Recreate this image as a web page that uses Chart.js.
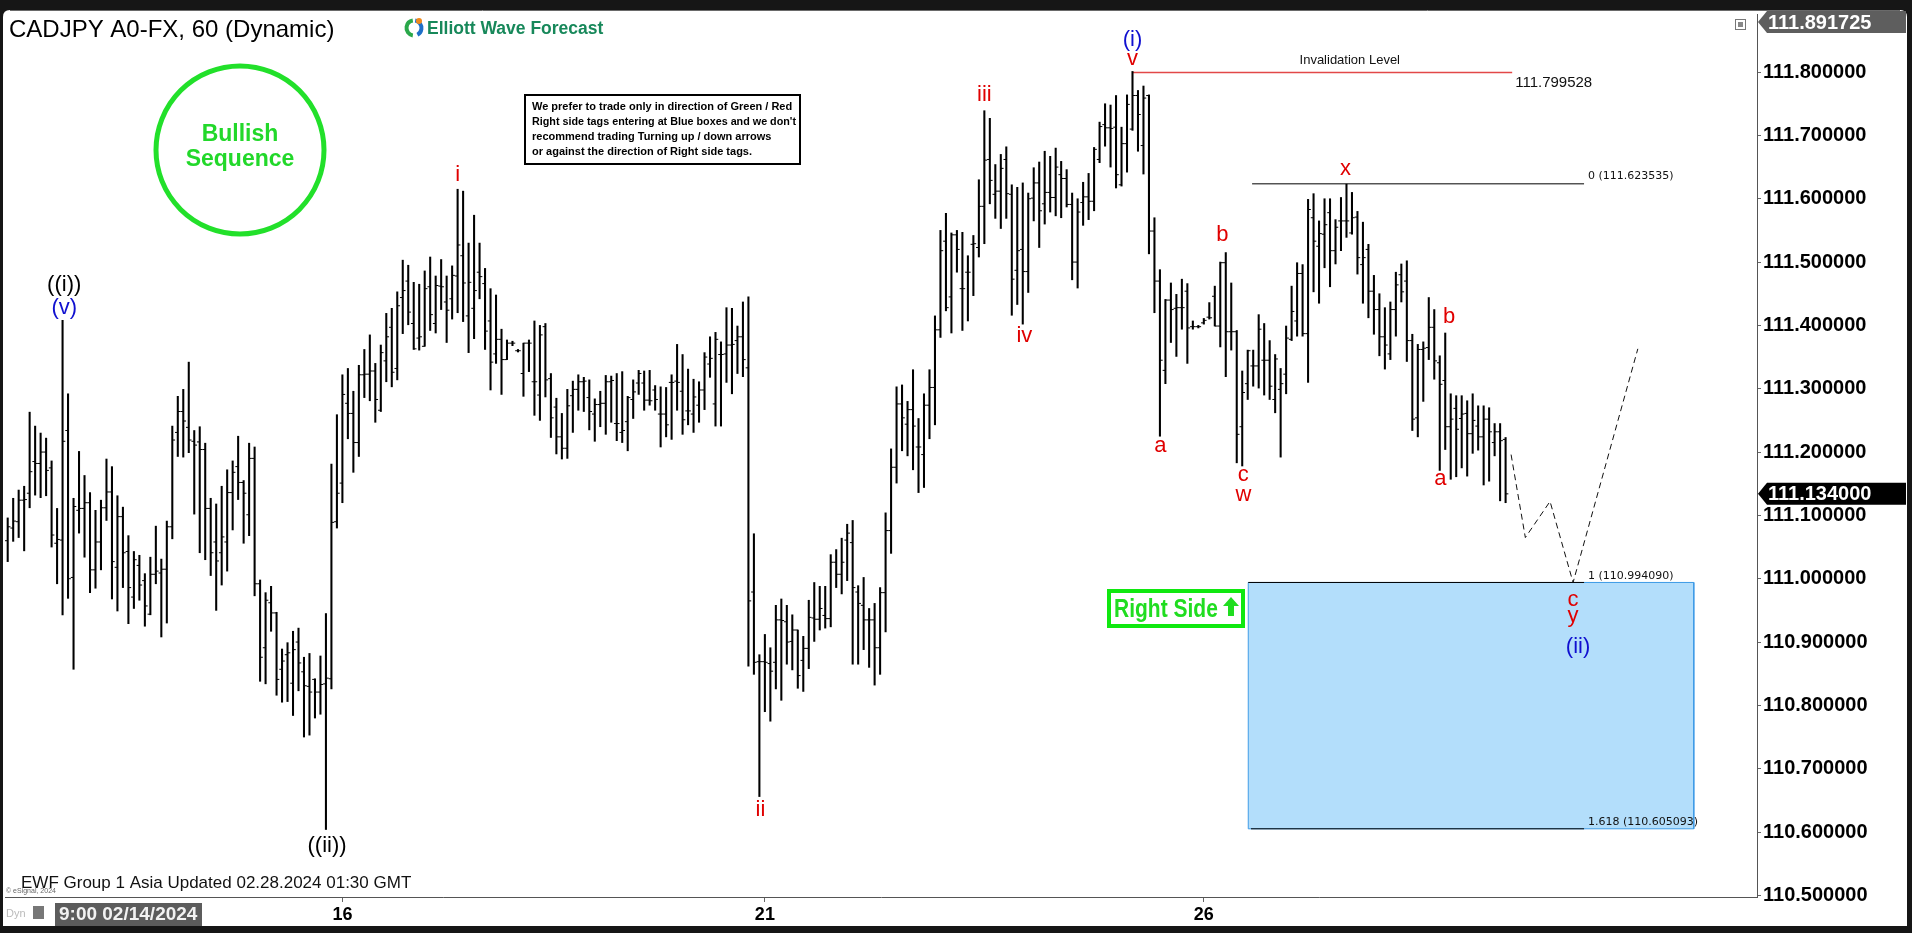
<!DOCTYPE html>
<html><head><meta charset="utf-8">
<script src="https://cdn.jsdelivr.net/npm/chart.js@4.4.1/dist/chart.umd.min.js"></script>
<style>html,body{margin:0;padding:0;background:#161616;overflow:hidden}canvas{display:block}</style>
</head><body>
<canvas id="c" width="1912" height="933"></canvas>
<script>
// ---------------- DATA ----------------
const DATE_TICKS = [61, 138, 218];
const DATE_LABELS = ['16', '21', '26'];
const PRICE_TICKS = [110.5, 110.6, 110.7, 110.8, 110.9, 111.0, 111.1, 111.2, 111.3, 111.4, 111.5, 111.6, 111.7, 111.8];
const Y_MIN = 110.4974, Y_MAX = 111.891725;
const LAST_PRICE = 111.134;

const OPEN = [
111.060,111.080,111.090,111.124,111.135,111.185,111.182,111.200,111.175,111.056,
111.061,111.234,111.002,111.108,111.111,111.120,111.014,111.058,111.112,111.137,
111.018,111.098,111.043,110.971,111.021,110.997,110.944,111.007,111.009,111.015,
111.082,111.231,111.264,111.239,111.217,111.216,111.204,111.111,111.058,111.041,
111.058,111.136,111.177,111.152,111.101,111.190,110.992,110.891,110.962,110.946,
110.857,110.880,110.835,110.900,110.853,110.830,110.841,110.821,110.834,110.842,
111.090,111.151,111.277,111.261,111.215,111.322,111.323,111.328,111.266,111.344,
111.397,111.332,111.444,111.470,111.403,111.380,111.367,111.461,111.403,111.462,
111.437,111.442,111.478,111.510,111.415,111.427,111.484,111.466,111.407,111.355,
111.378,111.346,111.372,111.360,111.324,111.372,111.311,111.290,111.398,111.316,
111.271,111.224,111.206,111.289,111.299,111.311,111.286,111.260,111.275,111.277,
111.311,111.245,111.231,111.248,111.283,111.309,111.309,111.282,111.298,111.260,
111.260,111.310,111.312,111.296,111.265,111.260,111.274,111.298,111.339,111.276,
111.354,111.355,111.369,111.376,111.382,111.333,
110.979,110.869,110.869,110.866,110.868,110.935,110.932,110.901,110.919,110.871,
110.890,110.938,110.936,110.942,110.937,111.026,111.007,111.061,111.057,110.979,
110.958,110.935,110.935,110.891,110.978,111.076,111.176,111.276,111.244,111.267,
111.208,111.196,111.274,
111.302,111.393,111.533,111.445,111.543,111.458,111.484,111.528,111.523,111.588,
111.662,111.607,111.612,111.662,111.607,111.487,111.520,111.485,111.601,111.625,
111.592,111.610,111.602,111.638,111.632,111.591,111.500,111.594,111.603,111.596,
111.662,111.717,111.712,111.713,111.622,111.687,
111.710,111.763,111.684,111.763,111.549,111.470,111.329,111.440,111.427,111.428,
111.454,111.398,111.398,111.404,111.413,111.446,111.399,111.499,111.390,111.390,
111.240,111.308,111.336,111.336,111.345,111.345,111.283,111.299,111.323,111.378,
111.407,111.482,111.387,111.570,111.525,111.544,111.578,111.518,111.565,111.565,
111.546,111.571,111.496,111.520,111.454,111.425,111.382,111.355,111.425,111.480,
111.470,111.376,111.254,111.362,111.365,111.397,111.341,111.313,111.240,111.269,
111.253,111.261,111.229,111.241,111.224,111.252,111.215,111.232,111.220
];
const HIGH = [
111.096,111.127,111.140,111.146,111.263,111.241,111.230,111.222,111.186,111.111,
111.408,111.292,111.127,111.201,111.163,111.136,111.108,111.124,111.189,111.177,
111.131,111.113,111.068,111.043,111.037,111.008,111.034,111.083,111.031,111.091,
111.241,111.288,111.299,111.342,111.234,111.240,111.214,111.127,111.118,111.146,
111.172,111.186,111.225,111.155,111.214,111.208,110.998,110.978,110.988,110.947,
110.889,110.899,110.917,110.922,110.876,110.882,110.842,110.878,110.945,111.181,
111.259,111.322,111.332,111.296,111.337,111.362,111.385,111.340,111.369,111.419,
111.427,111.453,111.503,111.495,111.468,111.465,111.486,111.508,111.478,111.504,
111.478,111.494,111.615,111.612,111.530,111.574,111.530,111.490,111.458,111.448,
111.394,111.377,111.375,111.362,111.372,111.377,111.407,111.400,111.403,111.324,
111.285,111.261,111.299,111.312,111.322,111.318,111.314,111.284,111.296,111.321,
111.320,111.324,111.327,111.288,111.314,111.329,111.328,111.329,111.305,111.303,
111.302,111.322,111.370,111.354,111.331,111.315,111.311,111.357,111.382,111.389,
111.374,111.428,111.427,111.399,111.437,111.445,
111.071,110.880,110.912,110.891,110.958,110.968,110.958,110.943,110.919,110.909,
110.966,110.994,110.988,110.988,111.038,111.046,111.064,111.086,111.092,110.989,
111.002,110.953,110.961,110.986,111.104,111.205,111.303,111.306,111.280,111.330,
111.253,111.292,111.330,
111.415,111.550,111.577,111.546,111.550,111.547,111.510,111.542,111.630,111.739,
111.727,111.654,111.670,111.682,111.622,111.618,111.625,111.609,111.649,111.658,
111.675,111.667,111.680,111.659,111.646,111.609,111.600,111.626,111.640,111.681,
111.721,111.750,111.748,111.763,111.713,111.764,
111.801,111.771,111.778,111.764,111.570,111.488,111.441,111.467,111.449,111.473,
111.466,111.407,111.400,111.411,111.436,111.462,111.500,111.515,111.467,111.392,
111.328,111.361,111.361,111.417,111.403,111.376,111.354,111.332,111.399,111.462,
111.499,111.496,111.599,111.608,111.565,111.600,111.600,111.567,111.602,111.623,
111.610,111.580,111.563,111.528,111.479,111.450,111.428,111.437,111.484,111.497,
111.502,111.386,111.370,111.374,111.444,111.425,111.352,111.388,111.292,111.289,
111.289,111.281,111.292,111.273,111.273,111.270,111.245,111.245,111.223
];
const LOW = [
111.027,111.059,111.065,111.044,111.112,111.132,111.128,111.131,111.050,110.992,
110.943,110.969,110.857,111.072,111.034,110.978,110.985,111.014,111.092,110.968,
110.949,110.986,110.929,110.953,110.966,110.925,110.943,110.992,110.908,110.930,
111.063,111.193,111.192,111.199,111.102,111.041,111.030,111.005,110.950,110.990,
111.012,111.077,111.125,111.056,111.068,110.973,110.838,110.834,110.917,110.816,
110.805,110.806,110.784,110.823,110.750,110.753,110.780,110.786,110.604,110.826,
111.080,111.120,111.221,111.168,111.193,111.286,111.281,111.247,111.264,111.311,
111.303,111.314,111.387,111.401,111.362,111.361,111.367,111.392,111.388,111.425,
111.373,111.410,111.420,111.406,111.357,111.379,111.442,111.362,111.298,111.340,
111.291,111.346,111.368,111.358,111.288,111.327,111.258,111.250,111.287,111.223,
111.197,111.189,111.190,111.231,111.266,111.264,111.235,111.217,111.240,111.228,
111.247,111.218,111.215,111.202,111.253,111.291,111.266,111.274,111.266,111.208,
111.224,111.220,111.266,111.228,111.243,111.231,111.247,111.267,111.318,111.241,
111.241,111.310,111.292,111.324,111.319,110.862,
110.849,110.656,110.790,110.775,110.826,110.808,110.865,110.856,110.827,110.822,
110.858,110.901,110.919,110.922,110.924,110.986,110.976,110.997,110.865,110.865,
110.888,110.860,110.832,110.849,110.916,111.040,111.151,111.202,111.194,111.172,
111.136,111.144,111.221,
111.243,111.381,111.423,111.388,111.484,111.392,111.407,111.447,111.508,111.529,
111.592,111.569,111.553,111.569,111.416,111.433,111.402,111.452,111.565,111.523,
111.560,111.579,111.573,111.570,111.587,111.472,111.459,111.558,111.567,111.581,
111.657,111.683,111.650,111.617,111.620,111.642,
111.708,111.675,111.639,111.513,111.420,111.225,111.308,111.373,111.351,111.394,
111.340,111.394,111.396,111.402,111.410,111.399,111.366,111.319,111.361,111.183,
111.178,111.283,111.304,111.301,111.290,111.283,111.262,111.192,111.292,111.376,
111.383,111.383,111.310,111.453,111.435,111.491,111.461,111.497,111.518,111.539,
111.544,111.481,111.435,111.412,111.386,111.352,111.331,111.346,111.383,111.437,
111.343,111.234,111.224,111.280,111.346,111.315,111.171,111.204,111.157,111.161,
111.175,111.162,111.198,111.203,111.148,111.154,111.194,111.123,111.120
];
const CLOSE = [
111.082,111.091,111.124,111.125,111.169,111.182,111.200,111.171,111.069,111.062,
111.217,111.000,111.114,111.111,111.120,111.014,111.058,111.112,111.137,111.027,
111.098,111.041,110.986,111.030,110.990,110.957,111.007,111.012,111.015,111.082,
111.219,111.264,111.249,111.219,111.211,111.204,111.111,111.041,111.028,111.066,
111.136,111.168,111.152,111.135,111.190,110.992,110.876,110.966,110.946,110.841,
110.870,110.883,110.888,110.867,110.831,110.821,110.821,110.833,110.843,111.089,
111.135,111.291,111.261,111.215,111.322,111.323,111.328,111.283,111.357,111.382,
111.326,111.431,111.455,111.421,111.363,111.382,111.458,111.417,111.463,111.461,
111.424,111.479,111.527,111.467,111.468,111.455,111.477,111.391,111.342,111.378,
111.346,111.372,111.372,111.360,111.372,111.372,111.311,111.385,111.314,111.254,
111.224,111.206,111.273,111.299,111.311,111.312,111.264,111.275,111.277,111.311,
111.313,111.245,111.234,111.286,111.295,111.324,111.282,111.281,111.283,111.260,
111.243,111.310,111.310,111.251,111.265,111.287,111.298,111.350,111.348,111.378,
111.354,111.369,111.370,111.382,111.346,110.965,
110.868,110.869,110.868,110.854,110.935,110.934,110.900,110.919,110.847,110.890,
110.939,110.936,110.953,110.937,111.026,111.007,111.026,111.072,110.986,110.961,
110.935,110.935,110.891,110.978,111.076,111.176,111.276,111.254,111.267,111.241,
111.208,111.274,111.302,
111.393,111.518,111.428,111.543,111.520,111.458,111.484,111.529,111.588,111.661,
111.629,111.612,111.648,111.608,111.473,111.518,111.485,111.600,111.625,111.581,
111.610,111.602,111.650,111.632,111.591,111.500,111.579,111.603,111.596,111.678,
111.714,111.712,111.711,111.638,111.687,111.749,
111.763,111.733,111.759,111.549,111.470,111.345,111.440,111.425,111.428,111.428,
111.396,111.398,111.398,111.408,111.412,111.399,111.499,111.390,111.390,111.228,
111.294,111.360,111.336,111.394,111.345,111.304,111.347,111.308,111.380,111.422,
111.482,111.387,111.583,111.533,111.545,111.559,111.518,111.555,111.565,111.565,
111.570,111.507,111.507,111.454,111.425,111.382,111.369,111.425,111.464,111.453,
111.376,111.252,111.362,111.364,111.397,111.344,111.307,111.240,111.252,111.236,
111.260,111.229,111.250,111.224,111.252,111.232,111.232,111.218,111.134
];

// annotation levels
const INVALIDATION = 111.799528;
const INV_X = [205.0, 274.2];
const FIB_0 = 111.623535, FIB_1 = 110.994090, FIB_1618 = 110.605093;
const FIB_X = [226.6, 287.3];
const BOX_X = [226.1, 307.3];
const PROJ_X = [274.0, 276.6, 281.1, 285.3, 297.1];
const PROJ_Y = [111.196, 111.065, 111.122, 110.994, 111.363];

const WAVE_TEXT  = ['((i))','(v)','((ii))','i','ii','iii','iv','(i)','v','a','b','c','w','x','b','a','c','y','(ii)'];
const WAVE_X     = [10.3, 10.3, 58.2, 82.0, 137.2, 178.0, 185.3, 205.0, 205.0, 210.1, 221.4, 225.2, 225.2, 243.8, 262.7, 261.1, 285.3, 285.3, 286.2];
const WAVE_Y     = [111.464, 111.428, 110.578, 111.638, 110.635, 111.764, 111.384, 111.851, 111.821, 111.210, 111.543, 111.164, 111.133, 111.647, 111.414, 111.157, 110.967, 110.941, 110.893];
const WAVE_COLOR = ['#000','#1010d0','#000','#e00000','#e00000','#e00000','#e00000','#1010d0','#e00000','#e00000','#e00000','#e00000','#e00000','#e00000','#e00000','#e00000','#e00000','#e00000','#1010d0'];

// ---------------- CHART ----------------
const FONT = '"Liberation Sans", Arial, Helvetica, sans-serif';
Chart.defaults.font.family = FONT;

const idx = OPEN.map((_, i) => i);
const rangeData = idx.map(i => ({x: i, y: [LOW[i], HIGH[i]]}));
const openData = idx.map(i => ({x: i - 0.25, y: OPEN[i]}));
const closeData = idx.map(i => ({x: i + 0.25, y: CLOSE[i]}));
const hline = (xs, v) => [{x: xs[0], y: v}, {x: xs[1], y: v}];

function roundRect(ctx, x, y, w, h, r) {
  ctx.beginPath();
  ctx.moveTo(x + r, y); ctx.lineTo(x + w - r, y); ctx.quadraticCurveTo(x + w, y, x + w, y + r);
  ctx.lineTo(x + w, y + h); ctx.lineTo(x, y + h); ctx.lineTo(x, y + r); ctx.quadraticCurveTo(x, y, x + r, y);
  ctx.closePath();
}

const decor = {
  id: 'decor',
  beforeDraw(chart) {
    const ctx = chart.ctx;
    ctx.save();
    ctx.fillStyle = '#161616';
    ctx.fillRect(0, 0, chart.width, chart.height);
    ctx.fillStyle = '#ffffff';
    roundRect(ctx, 3, 10, 1904, 916, 7);
    ctx.fill();
    ctx.strokeStyle = '#6a6a6a'; ctx.lineWidth = 1;
    ctx.beginPath(); ctx.moveTo(10, 10.5); ctx.lineTo(1900, 10.5); ctx.stroke();
    ctx.restore();
  },
  afterDraw(chart) {
    const ctx = chart.ctx;
    const xs = chart.scales.x, ys = chart.scales.y;
    const X = v => xs.getPixelForValue(v), Y = v => ys.getPixelForValue(v);
    ctx.save();

    // title
    ctx.fillStyle = '#000'; ctx.textAlign = 'left'; ctx.textBaseline = 'middle';
    ctx.font = '24px ' + FONT;
    ctx.fillText('CADJPY A0-FX, 60 (Dynamic)', 9, 30);

    // EWF logo
    const lx = 414, ly = 28;
    ctx.lineWidth = 4;
    ctx.strokeStyle = '#2aa84a'; ctx.beginPath(); ctx.arc(lx, ly, 7.5, Math.PI * 0.55, Math.PI * 1.45); ctx.stroke();
    ctx.strokeStyle = '#1e6fc8'; ctx.beginPath(); ctx.arc(lx, ly, 7.5, Math.PI * 1.55, Math.PI * 0.35); ctx.stroke();
    ctx.fillStyle = '#f08a1c'; ctx.beginPath(); ctx.arc(lx + 5, ly - 7, 3, 0, Math.PI * 2); ctx.fill();
    ctx.fillStyle = '#17885a'; ctx.font = 'bold 17.5px ' + FONT;
    ctx.fillText('Elliott Wave Forecast', 427, 29);

    // Bullish sequence circle
    ctx.strokeStyle = '#22e02a'; ctx.lineWidth = 5;
    ctx.beginPath(); ctx.arc(240, 150, 84, 0, Math.PI * 2); ctx.stroke();
    ctx.fillStyle = '#22d82a'; ctx.textAlign = 'center'; ctx.font = 'bold 23px ' + FONT;
    ctx.fillText('Bullish', 240, 135); ctx.fillText('Sequence', 240, 160);

    // disclaimer box
    ctx.fillStyle = '#fff'; ctx.fillRect(524, 94, 277, 71);
    ctx.strokeStyle = '#000'; ctx.lineWidth = 2; ctx.strokeRect(525, 95, 275, 69);
    ctx.fillStyle = '#000'; ctx.textAlign = 'left'; ctx.font = 'bold 11px ' + FONT;
    const lines = ['We prefer to trade only in direction of Green / Red', "Right side tags entering at Blue boxes and we don't",
                   'recommend trading Turning up / down arrows', 'or against the direction of Right side tags.'];
    lines.forEach((t, i) => ctx.fillText(t, 532, 107 + i * 15, 264));

    // wave labels
    ctx.textAlign = 'center'; ctx.textBaseline = 'middle';
    ctx.font = '22px ' + FONT;
    WAVE_TEXT.forEach((t, i) => { ctx.fillStyle = WAVE_COLOR[i]; ctx.fillText(t, X(WAVE_X[i]), Y(WAVE_Y[i])); });

    // invalidation texts
    ctx.fillStyle = '#111'; ctx.font = '13px ' + FONT;
    ctx.fillText('Invalidation Level', X((INV_X[0] + INV_X[1]) / 2 + 5), Y(INVALIDATION) - 12);
    ctx.textAlign = 'left'; ctx.font = '15px ' + FONT;
    ctx.fillText(INVALIDATION.toFixed(6), X(INV_X[1]) + 3, Y(INVALIDATION) + 10);

    // fib texts
    ctx.font = '11px "DejaVu Sans", sans-serif'; ctx.fillStyle = '#111';
    ctx.fillText('0 (' + FIB_0.toFixed(6) + ')', X(FIB_X[1]) + 4, Y(FIB_0) - 8);
    ctx.fillText('1 (' + FIB_1.toFixed(6) + ')', X(FIB_X[1]) + 4, Y(FIB_1) - 6);
    ctx.fillText('1.618 (' + FIB_1618.toFixed(6) + ')', X(FIB_X[1]) + 4, Y(FIB_1618) - 7);

    // Right Side tag
    ctx.strokeStyle = '#10e810'; ctx.lineWidth = 4;
    ctx.strokeRect(1109, 591, 134, 35);
    ctx.fillStyle = '#20dd20';
    ctx.save(); ctx.translate(1114, 609); ctx.scale(0.84, 1);
    ctx.font = 'bold 25px ' + FONT; ctx.textAlign = 'left'; ctx.textBaseline = 'middle';
    ctx.fillText('Right Side', 0, 1);
    ctx.restore();
    ctx.beginPath();
    ctx.moveTo(1231, 597); ctx.lineTo(1239, 606); ctx.lineTo(1234, 606); ctx.lineTo(1234, 616);
    ctx.lineTo(1228, 616); ctx.lineTo(1228, 606); ctx.lineTo(1223, 606); ctx.closePath(); ctx.fill();

    // footer texts
    ctx.textAlign = 'left'; ctx.fillStyle = '#111'; ctx.font = '17px ' + FONT;
    ctx.fillText('EWF Group 1 Asia Updated 02.28.2024 01:30 GMT', 21, 883);
    ctx.fillStyle = '#666'; ctx.font = '7px ' + FONT;
    ctx.fillText('\u00A9 eSignal, 2024', 6, 891);

    // bottom left date box
    ctx.fillStyle = '#bbb'; ctx.font = '11px ' + FONT;
    ctx.fillText('Dyn', 6, 914);
    ctx.fillStyle = '#777'; ctx.fillRect(33, 906, 11, 13);
    ctx.fillStyle = '#5c5c5c'; ctx.fillRect(55, 903, 147, 23);
    ctx.fillStyle = '#f2f2f2'; ctx.font = 'bold 19px ' + FONT;
    ctx.fillText('9:00 02/14/2024', 59, 915);

    // right axis price tags
    const tag = (yc, text, bg) => {
      ctx.fillStyle = bg;
      ctx.beginPath();
      ctx.moveTo(1758, yc); ctx.lineTo(1767, yc - 11); ctx.lineTo(1906, yc - 11); ctx.lineTo(1906, yc + 11);
      ctx.lineTo(1767, yc + 11); ctx.closePath(); ctx.fill();
      ctx.fillStyle = '#fff'; ctx.font = 'bold 20px ' + FONT; ctx.textAlign = 'left';
      ctx.fillText(text, 1768, yc + 1);
    };
    tag(22, Y_MAX.toFixed(6), '#5e5e5e');
    tag(Y(LAST_PRICE), LAST_PRICE.toFixed(6), '#000');

    // small icon top right
    ctx.strokeStyle = '#777'; ctx.lineWidth = 1;
    ctx.strokeRect(1735.5, 19.5, 10, 10);
    ctx.fillStyle = '#888'; ctx.fillRect(1738, 22, 5, 5);
    ctx.restore();
  }
};

new Chart(document.getElementById('c'), {
  type: 'bar',
  data: {
    datasets: [
      { type: 'bar', label: 'range', data: rangeData, backgroundColor: '#000', borderWidth: 0, barThickness: 1.4, order: 1 },
      { type: 'scatter', label: 'open', data: openData, pointStyle: 'line', radius: 1.4, borderColor: '#000', borderWidth: 1, order: 2 },
      { type: 'scatter', label: 'close', data: closeData, pointStyle: 'line', radius: 1.4, borderColor: '#000', borderWidth: 1, order: 2 },
      { type: 'line', label: 'boxfill', data: hline(BOX_X, FIB_1), fill: {value: FIB_1618}, backgroundColor: 'rgb(179,222,251)', borderWidth: 0, borderColor: 'rgba(0,0,0,0)', pointRadius: 0, order: 20 },
      { type: 'line', label: 'boxedge', data: [{x: BOX_X[0], y: FIB_1}, {x: BOX_X[1], y: FIB_1}, {x: BOX_X[1], y: FIB_1618}, {x: BOX_X[0], y: FIB_1618}, {x: BOX_X[0], y: FIB_1}], borderColor: '#3c9ae6', borderWidth: 1, pointRadius: 0, fill: false, order: 15 },
      { type: 'line', label: 'fib0', data: hline([FIB_X[0] + 0.2, FIB_X[1]], FIB_0), borderColor: '#000', borderWidth: 1, pointRadius: 0, fill: false, order: 5 },
      { type: 'line', label: 'fib1', data: hline([BOX_X[0], FIB_X[1]], FIB_1), borderColor: '#000', borderWidth: 1, pointRadius: 0, fill: false, order: 5 },
      { type: 'line', label: 'fib1618', data: hline(FIB_X, FIB_1618), borderColor: '#000', borderWidth: 1, pointRadius: 0, fill: false, order: 5 },
      { type: 'line', label: 'inv', data: hline(INV_X, INVALIDATION), borderColor: '#e24848', borderWidth: 1.5, pointRadius: 0, fill: false, order: 5 },
      { type: 'line', label: 'proj', data: PROJ_X.map((x, i) => ({x, y: PROJ_Y[i]})), borderColor: '#111', borderWidth: 1, borderDash: [6, 4], pointRadius: 0, fill: false, tension: 0, order: 4 }
    ]
  },
  options: {
    responsive: false,
    animation: false,
    events: [],
    devicePixelRatio: 1,
    layout: { padding: { left: 4, top: 13, right: 0, bottom: 0 } },
    plugins: { legend: { display: false }, tooltip: { enabled: false } },
    scales: {
      x: {
        type: 'linear', position: 'bottom', min: -0.492, max: 318.82, offset: false,
        grid: { display: true, offset: false, drawOnChartArea: false, tickLength: 5, color: '#666' },
        border: { display: true, color: '#555', width: 1 },
        ticks: { autoSkip: false, maxRotation: 0, padding: 2, color: '#000', font: { size: 18, weight: 'bold' },
                 callback: v => { const k = DATE_TICKS.indexOf(v); return k >= 0 ? DATE_LABELS[k] : ''; } },
        afterBuildTicks: s => { s.ticks = DATE_TICKS.map(v => ({value: v})); },
        afterFit: s => { s.height = 36; }
      },
      y: {
        type: 'linear', position: 'right', min: Y_MIN, max: Y_MAX,
        grid: { display: true, drawOnChartArea: false, tickLength: 4, color: '#666' },
        border: { display: true, color: '#555', width: 1 },
        ticks: { padding: 2, color: '#000', font: { size: 20, weight: 'bold' }, callback: v => Number(v).toFixed(6) },
        afterBuildTicks: s => { s.ticks = PRICE_TICKS.map(v => ({value: v})); },
        afterFit: s => { s.width = 155; }
      }
    }
  },
  plugins: [decor]
});
</script>
</body></html>
